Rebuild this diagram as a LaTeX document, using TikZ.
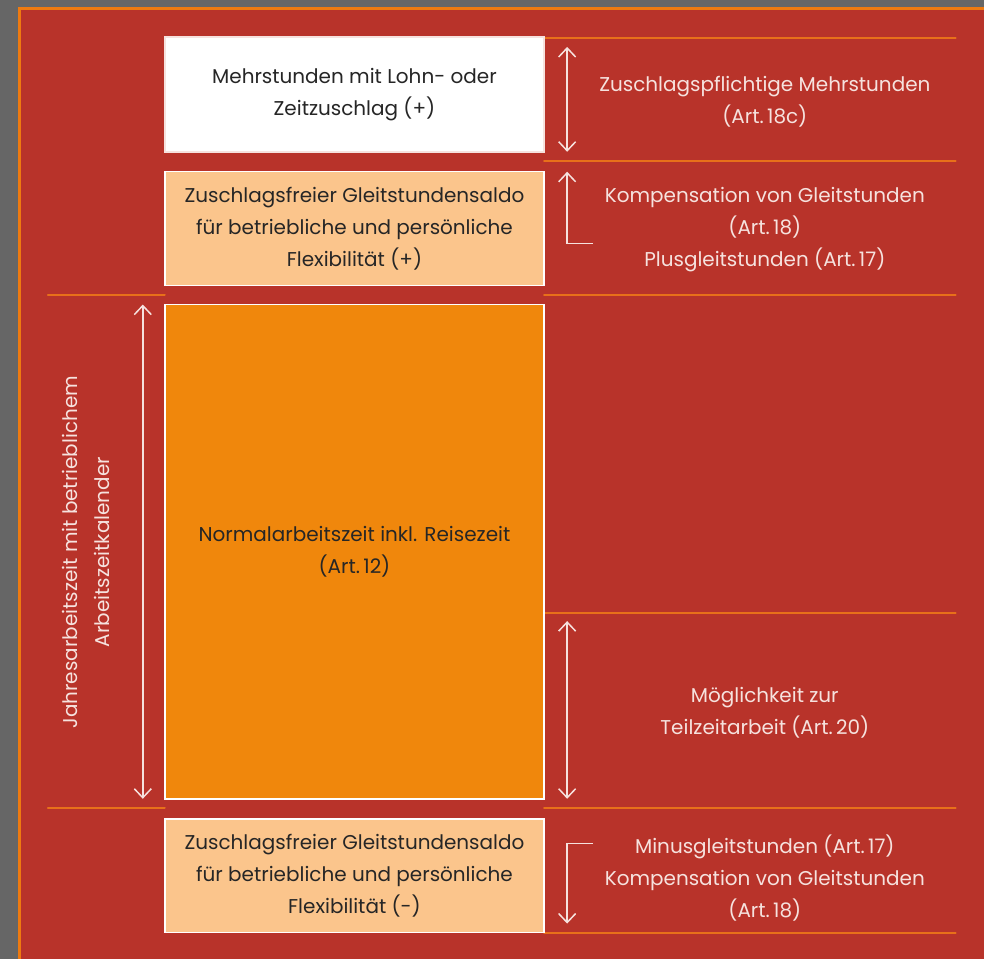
\documentclass[tikz,border=0pt]{standalone}
\usepackage{fontspec}
\setmainfont{Poppins}
\usepackage{tkz-euclide}
\usetikzlibrary{arrows.meta}

\definecolor{fondo}{HTML}{666666}
\definecolor{rojo}{HTML}{B8332A}
\definecolor{naranja}{HTML}{EE7A10}
\definecolor{linea}{HTML}{E8701A}
\definecolor{caja}{HTML}{F0870C}
\definecolor{crema}{HTML}{FBC58C}
\definecolor{blanco}{HTML}{F6E2DE}

\tikzset{
  bloque/.style={draw=white, line width=1.5pt, minimum width=380pt,
    align=center, text=black!85, font=\fontsize{20}{32}\selectfont},
  texto/.style={align=center, text=blanco, font=\fontsize{20}{32}\selectfont},
  guia/.style={draw=linea, line width=2pt},
  flecha/.style={draw=blanco, line width=1.5pt}
}

\begin{document}
\begin{tikzpicture}[x=1pt, y=-1pt, >={Straight Barb[length=9pt,width=17pt]}]
    % Fondo y marco.
    \fill[fondo] (0,0) rectangle (985,960);
    \fill[rojo] (18,7) rectangle (985,960);
    \draw[naranja, line width=3pt] (19.5,960) -- (19.5,8.5) -- (985,8.5);
    \useasboundingbox (0,0) rectangle (985,960);

    % Puntos de las guias y de las flechas.
    \tkzDefPoints{
        545/38/G1a, 957/38/G1b,
        545/161/G2a, 957/161/G2b,
        48/295/G3a, 165/295/G3b, 545/295/G3c, 957/295/G3d,
        545/614/G4a, 957/614/G4b,
        48/809/G5a, 165/809/G5b, 545/809/G5c, 957/809/G5d,
        545/934/G6a, 957/934/G6b,
        568/47/F1a, 568/152/F1b,
        594/244/F2a, 568/244/F2b, 568/172/F2c,
        568/622/F3a, 568/800/F3b,
        594/845/F4a, 568/845/F4b, 568/925/F4c,
        143/305/F5a, 143/800/F5b%
    }

    % Guias naranjas.
    \tkzDrawSegment[guia](G1a,G1b)
    \tkzDrawSegment[guia](G2a,G2b)
    \tkzDrawSegment[guia](G3a,G3b)
    \tkzDrawSegment[guia](G3c,G3d)
    \tkzDrawSegment[guia](G4a,G4b)
    \tkzDrawSegment[guia](G5a,G5b)
    \tkzDrawSegment[guia](G5c,G5d)
    \tkzDrawSegment[guia](G6a,G6b)

    % Bloques de la izquierda.
    \node[bloque, fill=white, draw=blanco, minimum height=115pt] (mehr) at (355,94.5)
        {Mehrstunden mit Lohn- oder\\Zeitzuschlag (+)};
    \node[bloque, fill=crema, minimum height=114pt] (plus) at (355,229)
        {Zuschlagsfreier Gleitstundensaldo\\für betriebliche und persönliche\\Flexibilität (+)};
    \node[bloque, fill=caja, minimum height=495pt] (normal) at (355,552.5)
        {Normalarbeitszeit inkl. Reisezeit\\(Art.\,12)};
    \node[bloque, fill=crema, minimum height=114pt] (minus) at (355,877)
        {Zuschlagsfreier Gleitstundensaldo\\für betriebliche und persönliche\\Flexibilität (-)};

    % Textos de la derecha.
    \node[texto] (zuschlag) at (766,102) {Zuschlagspflichtige Mehrstunden\\(Art.\,18c)};
    \node[texto] (kompplus) at (766,230) {Kompensation von Gleitstunden\\(Art.\,18)\\Plusgleitstunden (Art.\,17)};
    \node[texto] (teilzeit) at (766,714) {Möglichkeit zur\\Teilzeitarbeit (Art.\,20)};
    \node[texto] (kompminus) at (766,879) {Minusgleitstunden (Art.\,17)\\Kompensation von Gleitstunden\\(Art.\,18)};
    \node[texto, rotate=90] (jahr) at (86,553) {Jahresarbeitszeit mit betrieblichem\\Arbeitszeitkalender};

    % Flechas.
    \tkzDrawSegment[flecha, <->](F1a,F1b)
    \draw[flecha, ->] (F2a) -- (F2b) -- (F2c);
    \tkzDrawSegment[flecha, <->](F3a,F3b)
    \draw[flecha, ->] (F4a) -- (F4b) -- (F4c);
    \tkzDrawSegment[flecha, <->](F5a,F5b)
\end{tikzpicture}
\end{document}
